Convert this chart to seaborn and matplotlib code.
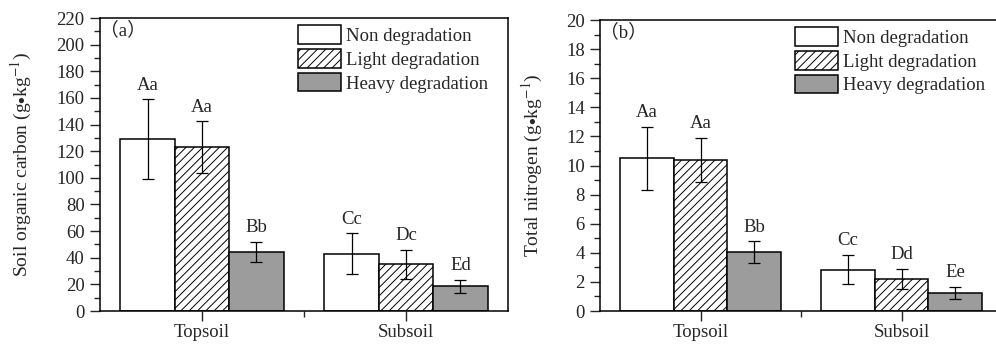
import numpy as np
import pandas as pd
import matplotlib
matplotlib.use("Agg")
import matplotlib.pyplot as plt
from matplotlib.ticker import MultipleLocator, FixedLocator
import seaborn as sns

layers = ["Topsoil", "Subsoil"]
treatments = ["Non degradation", "Light degradation", "Heavy degradation"]

soc_mean = {"Non degradation": [129, 43], "Light degradation": [123, 35], "Heavy degradation": [44.5, 18.5]}
soc_err = {"Non degradation": [30, 15.5], "Light degradation": [19.5, 11], "Heavy degradation": [7.5, 5]}
soc_lab = {"Non degradation": ["Aa", "Cc"], "Light degradation": ["Aa", "Dc"], "Heavy degradation": ["Bb", "Ed"]}

tn_mean = {"Non degradation": [10.5, 2.85], "Light degradation": [10.4, 2.2], "Heavy degradation": [4.05, 1.25]}
tn_err = {"Non degradation": [2.15, 1.0], "Light degradation": [1.5, 0.72], "Heavy degradation": [0.75, 0.4]}
tn_lab = {"Non degradation": ["Aa", "Cc"], "Light degradation": ["Aa", "Dd"], "Heavy degradation": ["Bb", "Ee"]}

sns.set_style("white")
plt.rcParams['font.family'] = ['Liberation Serif', 'Noto Sans CJK SC', 'DejaVu Sans']
plt.rcParams['mathtext.fontset'] = 'stix'
FS = 13.5

colors = {"Non degradation": "white", "Light degradation": "white", "Heavy degradation": "#9c9c9c"}
hatches = {"Non degradation": "", "Light degradation": "////", "Heavy degradation": ""}
plt.rcParams['hatch.linewidth'] = 0.7

fig = plt.figure(figsize=(9.96, 3.44), dpi=100)
ax1 = fig.add_axes([100/996, 1-311/344, 408/996, 293/344])
ax2 = fig.add_axes([600/996, 1-311/344, 402/996, 291/344])


def panel(ax, mean, err, lab, ymax, ystep, yminor, ylabel, tag, off):
    rows = []
    for t in treatments:
        for i, l in enumerate(layers):
            rows.append({"layer": l, "treatment": t, "value": mean[t][i]})
    df = pd.DataFrame(rows)
    sns.barplot(data=df, x="layer", y="value", hue="treatment", order=layers,
                hue_order=treatments, errorbar=None, width=0.8, ax=ax,
                palette=[colors[t] for t in treatments], edgecolor="black",
                linewidth=1.1, saturation=1, legend=False)
    for t, cont in zip(treatments, ax.containers):
        for i, p in enumerate(cont.patches):
            p.set_facecolor(colors[t])
            p.set_hatch(hatches[t])
            p.set_edgecolor("black")
            xc = p.get_x() + p.get_width() / 2
            ax.errorbar(xc, mean[t][i], yerr=err[t][i], fmt="none", ecolor="black",
                        elinewidth=0.9, capsize=4, capthick=0.9, zorder=5)
            ax.annotate(lab[t][i], (xc, mean[t][i] + err[t][i]), xytext=(0, 4),
                        textcoords="offset points", ha="center", va="bottom", fontsize=FS)
    ax.set_xlim(-0.5, 1.5)
    ax.set_ylim(0, ymax)
    ax.yaxis.set_major_locator(MultipleLocator(ystep))
    ax.yaxis.set_minor_locator(MultipleLocator(yminor))
    ax.xaxis.set_minor_locator(FixedLocator([0.5]))
    ax.tick_params(axis="both", which="major", direction="out", length=7, width=1,
                   labelsize=FS, left=True, bottom=True, pad=4)
    ax.tick_params(axis="both", which="minor", direction="out", length=4, width=1,
                   left=True, bottom=True)
    ax.tick_params(axis="x", which="major", labelsize=FS, pad=2.5)
    ax.set_xlabel("")
    ax.set_ylabel(ylabel, fontsize=14, labelpad=off)
    for s in ax.spines.values():
        s.set_visible(True)
        s.set_color("black")
        s.set_linewidth(1.1)
    ax.text(0.0, 0.99, "（" + tag + "）", transform=ax.transAxes, ha="left", va="top",
            fontsize=FS)
    handles = [matplotlib.patches.Patch(facecolor=colors[t], edgecolor="black",
                                        hatch=hatches[t], linewidth=1.1) for t in treatments]
    ax.legend(handles, treatments, loc="upper left", bbox_to_anchor=(0.485, 0.975),
              frameon=False, fontsize=FS, handlelength=2.3, handleheight=1.15,
              labelspacing=0.22, handletextpad=0.25, borderpad=0, borderaxespad=0)


panel(ax1, soc_mean, soc_err, soc_lab, 220, 20, 10,
      r"Soil organic carbon (g$\bullet$kg$^{-1}$)", "a", 16)
panel(ax2, tn_mean, tn_err, tn_lab, 20, 2, 1,
      r"Total nitrogen (g$\bullet$kg$^{-1}$)", "b", 15)

fig.savefig("out.png", dpi=100)
